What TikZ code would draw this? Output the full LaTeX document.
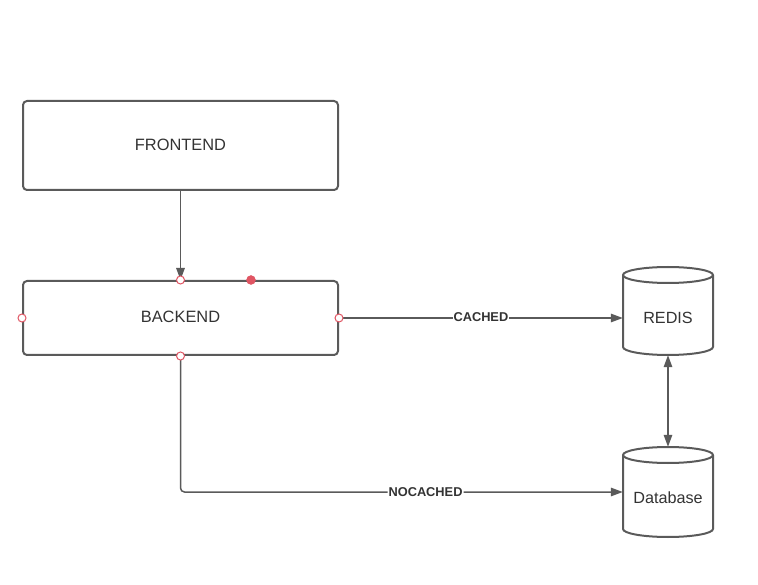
\documentclass[tikz,border=0pt]{standalone}
\usepackage{fontspec}
\setmainfont{Liberation Sans}
\usetikzlibrary{arrows.meta}
\definecolor{linegray}{HTML}{5A5A5A}
\definecolor{textgray}{HTML}{333333}
\definecolor{handlered}{HTML}{E05563}
\begin{document}
\begin{tikzpicture}[x=1pt,y=-1pt,
  box/.style={draw=linegray,line width=2pt,rounded corners=4pt,minimum width=315pt,inner sep=0pt,
    text=textgray,font=\fontsize{16.4}{18}\selectfont},
  cyl/.style={draw=linegray,line width=2pt,line join=round},
  anchorbox/.style={draw=none,inner sep=0pt,minimum width=90pt},
  cyltext/.style={text=textgray,font=\fontsize{16.2}{18}\selectfont,inner sep=0pt},
  conn/.style={draw=linegray,line width=1.5pt,-{Triangle[length=12pt,width=8.5pt]}},
  biconn/.style={draw=linegray,line width=1.5pt,{Triangle[length=12pt,width=8.5pt]}-{Triangle[length=12pt,width=8.5pt]}},
  edgelbl/.style={fill=white,inner sep=1pt,text=textgray,font=\bfseries\fontsize{12.8}{14}\selectfont},
  handle/.style={circle,draw=handlered,fill=white,line width=1pt,minimum size=8pt,inner sep=0pt},
  handledot/.style={circle,draw=handlered,fill=handlered,minimum size=9pt,inner sep=0pt}
]
\useasboundingbox (0,0) rectangle (758,585);

% boxes
\node[box,minimum height=89pt] (frontend) at (180.5,145.5) {\raisebox{0.5pt}{FRONTEND}};
\node[box,minimum height=74pt] (backend) at (180.5,318) {\raisebox{2pt}{BACKEND}};

% REDIS cylinder
\node[anchorbox,minimum height=88pt] (redis) at (668,311) {};
\draw[cyl] (623,275) -- (623,347)
  .. controls (623,351.4) and (643.1,355) .. (668,355)
  .. controls (692.9,355) and (713,351.4) .. (713,347) -- (713,275);
\draw[cyl,fill=white] (668,275) ellipse [x radius=45pt,y radius=8pt];
\node[cyltext] (redislbl) at (668,317.5) {REDIS};

% Database cylinder
\node[anchorbox,minimum height=90pt] (database) at (668,492) {};
\draw[cyl] (623,455) -- (623,529)
  .. controls (623,533.4) and (643.1,537) .. (668,537)
  .. controls (692.9,537) and (713,533.4) .. (713,529) -- (713,455);
\draw[cyl,fill=white] (668,455) ellipse [x radius=45pt,y radius=8pt];
\node[cyltext] (dblbl) at (668,498) {Database};

% connectors
\draw[conn] (frontend.south) -- (backend.north);
\draw[conn] (backend.east) -- node[edgelbl,pos=0.5,yshift=1pt] {CACHED} (backend.east -| redis.west);
\draw[conn,rounded corners=4pt] (backend.south) -- (backend.south |- database.west)
  -- node[edgelbl,pos=0.554] {NOCACHED} (database.west);
\draw[biconn] (redis.south) -- (database.north);

% selection handles
\node[handle] (h1) at (backend.north) {};
\node[handle] (h2) at (backend.west) {};
\node[handle] (h3) at (backend.east) {};
\node[handle] (h4) at (backend.south) {};
\node[handledot] (h5) at (251,280) {};
\end{tikzpicture}
\end{document}
